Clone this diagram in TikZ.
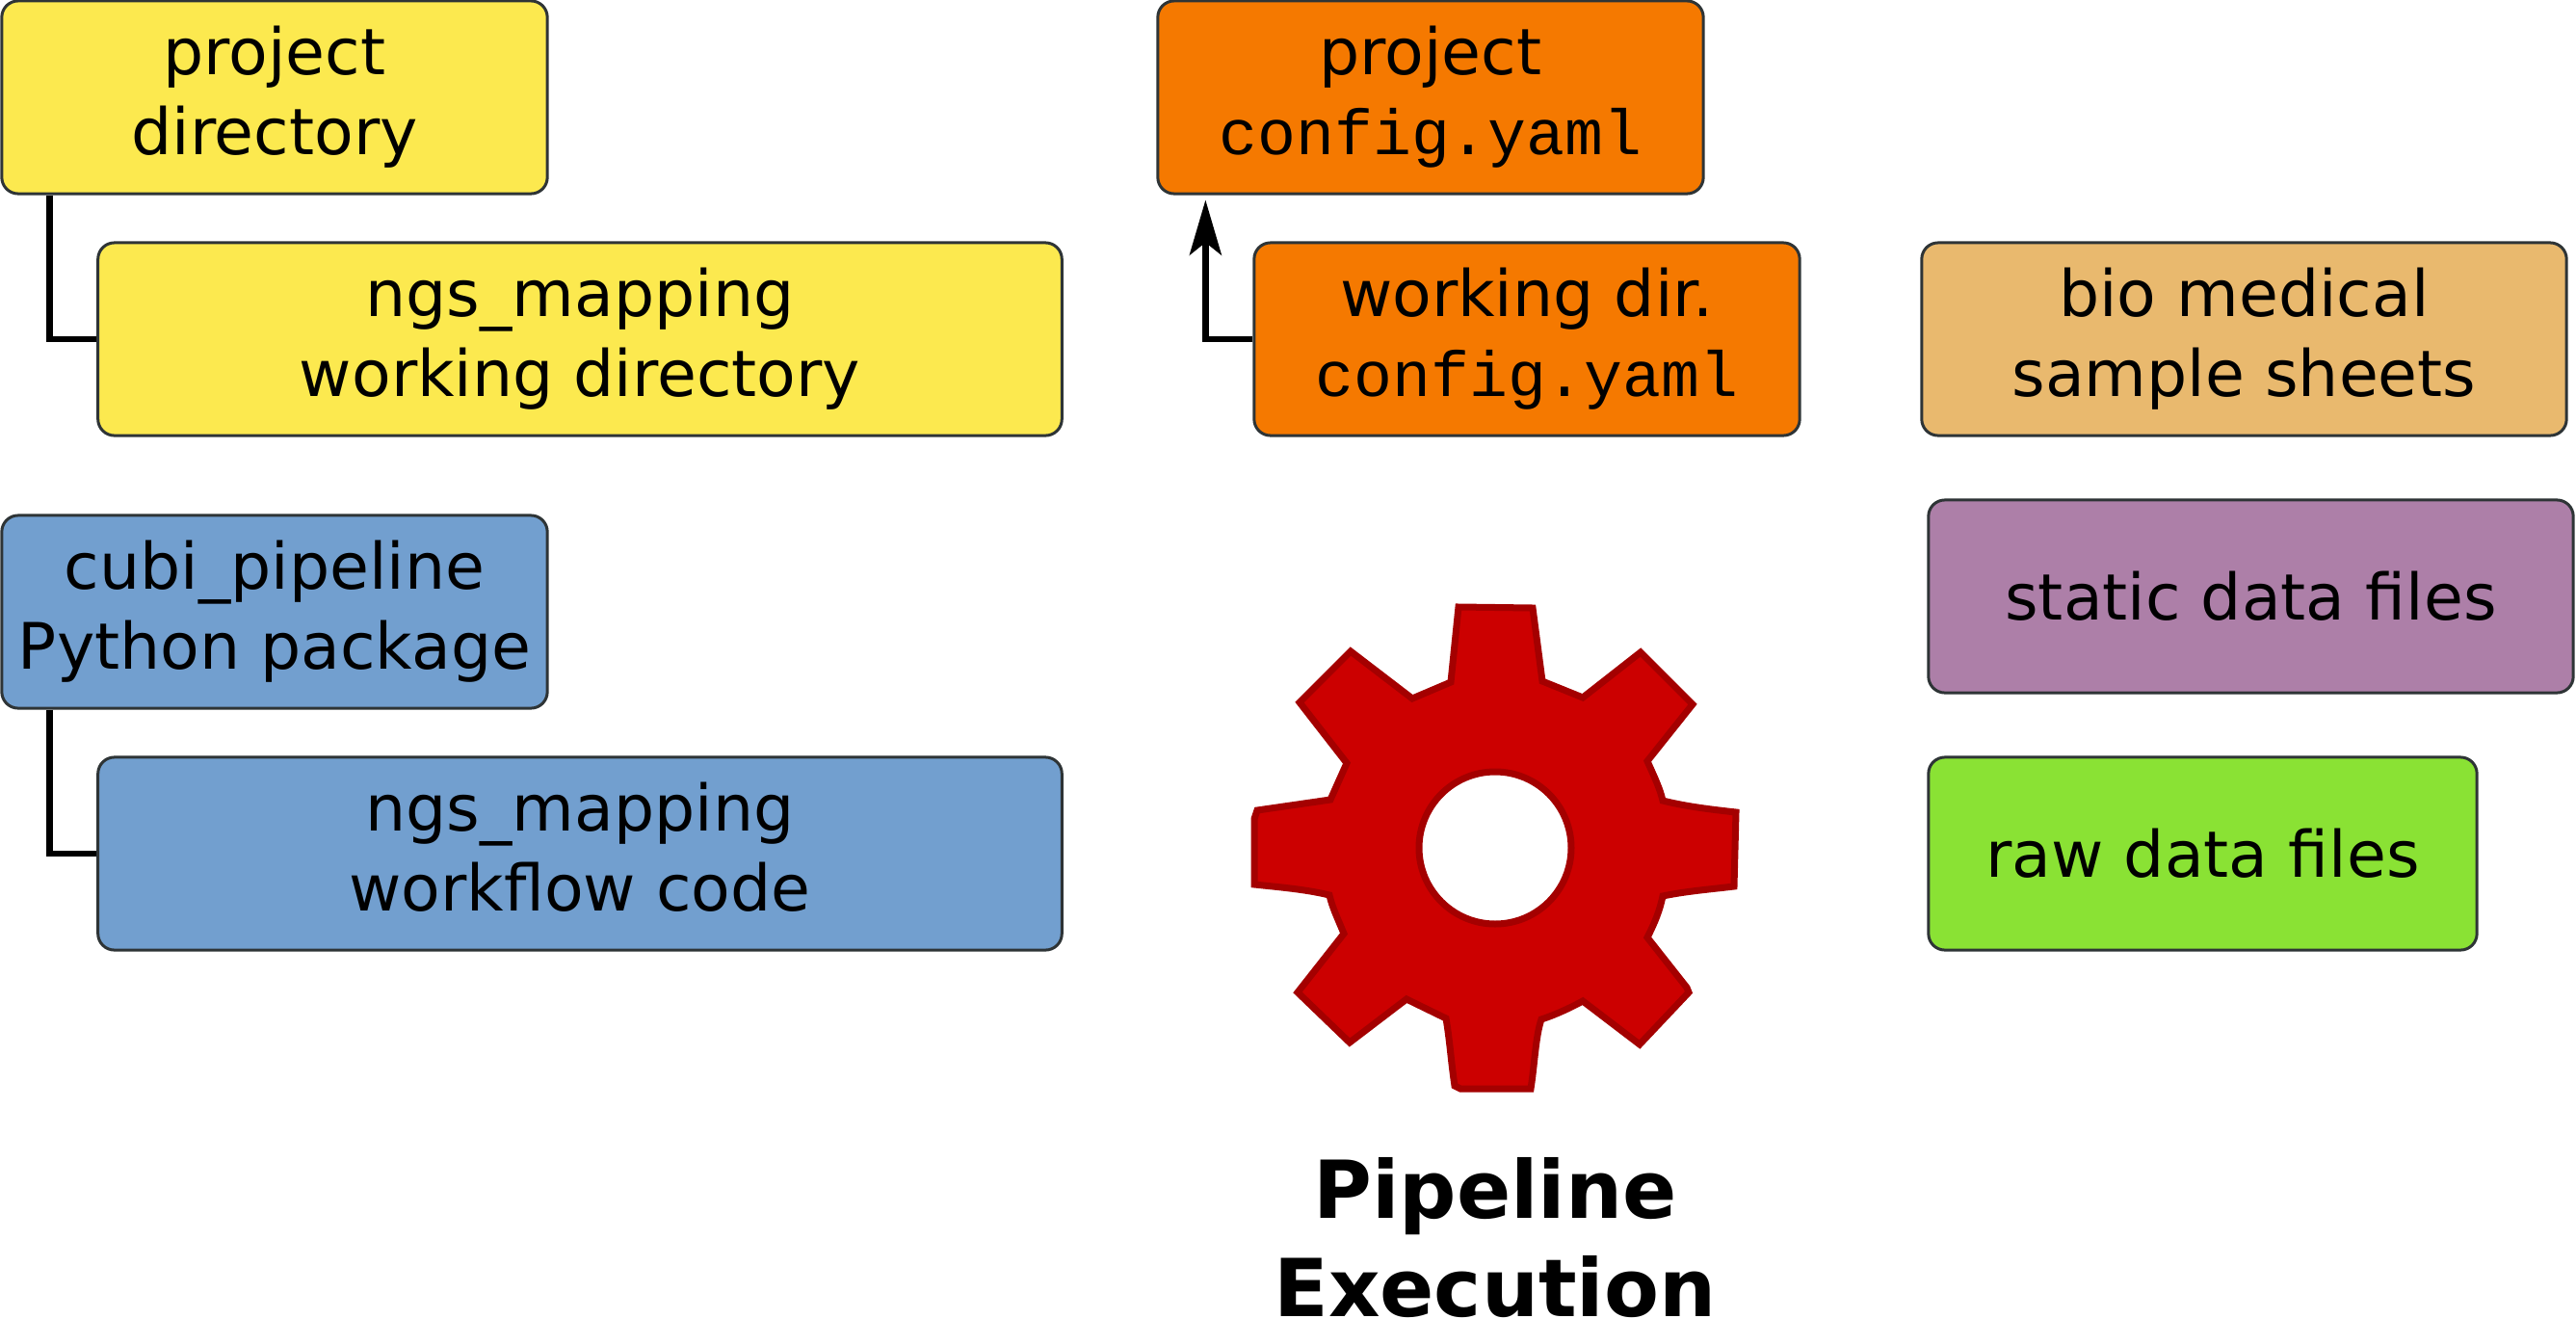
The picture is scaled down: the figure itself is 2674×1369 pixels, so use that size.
\documentclass[tikz,border=0pt]{standalone}
\usepackage{fontspec}
\setmainfont{DejaVu Sans}
\setmonofont{Liberation Mono}
\usetikzlibrary{arrows.meta}
\definecolor{boxline}{HTML}{2E3436}
\definecolor{pathyellow}{HTML}{FCE94F}
\definecolor{cfgorange}{HTML}{F57900}
\definecolor{codeblue}{HTML}{729FCF}
\definecolor{sheettan}{HTML}{E9B96E}
\definecolor{staticpurple}{HTML}{AD7FA8}
\definecolor{rawgreen}{HTML}{8AE234}
\definecolor{gearred}{HTML}{CC0000}
\definecolor{gearline}{HTML}{A40000}
\tikzset{
  cellbox/.style={draw=boxline,line width=.03cm,rounded corners=.17cm,minimum height=2cm,
    inner sep=0pt,align=center,font=\fontsize{18.9}{23.6}\selectfont},
  branch/.style={line width=.067cm},
  gearpart/.style={draw=gearline,fill=gearred,line width=.07cm,even odd rule}
}
\begin{document}
\begin{tikzpicture}[x=.01cm,y=-.01cm]
      \useasboundingbox (0,0) rectangle (2674,1369);
      \node[cellbox,fill=pathyellow,minimum width=5.66cm] (projdir) at (285,101) {project\\directory};
      \node[cellbox,fill=pathyellow,minimum width=10cm] (workdir) at (602,352) {ngs\_mapping\\working directory};
      \node[cellbox,fill=codeblue,minimum width=5.66cm] (pipepkg) at (285,635) {cubi\_pipeline\\Python package};
      \node[cellbox,fill=codeblue,minimum width=10cm] (flowcode) at (602,886) {ngs\_mapping\\workflow code\vphantom{y}};
      \node[cellbox,fill=cfgorange,minimum width=5.66cm] (projcfg) at (1485,101) {project\\\texttt{config.yaml}};
      \node[cellbox,fill=cfgorange,minimum width=5.66cm] (workcfg) at (1585,352) {working dir.\\\texttt{config.yaml}};
      \node[cellbox,fill=sheettan,minimum width=6.69cm] (sheets) at (2329.5,352) {bio medical\\sample sheets};
      \node[cellbox,fill=staticpurple,minimum width=6.69cm] (staticdata) at (2336.5,619) {static data files};
      \node[cellbox,fill=rawgreen,minimum width=5.69cm] (rawdata) at (2286.5,886) {raw data files};
      \draw[branch] ([xshift=.51cm]projdir.south west) |- (workdir.west);
      \draw[branch] ([xshift=.51cm]pipepkg.south west) |- (flowcode.west);
      \draw[branch,-{Stealth[length=.57cm,width=.33cm,inset=.13cm]}] (workcfg.west) -| ([xshift=.51cm,yshift=-.05cm]projcfg.south west);
      % gear, outline taken point by point
      \draw[gearpart] (1514,630) -- (1591,631) -- (1601,707) -- (1643,724) -- (1703,677) -- (1757,731)
        -- (1710,790) .. controls (1718,808) and (1723,818) .. (1726,831)
        .. controls (1750,837) and (1775,840) .. (1802,843) -- (1800,920)
        .. controls (1775,923) and (1750,925) .. (1726,930)
        .. controls (1723,945) and (1718,957) .. (1710,973) -- (1751,1025) -- (1753,1030) -- (1702,1084)
        -- (1643,1039) .. controls (1628,1047) and (1615,1053) .. (1600,1058)
        .. controls (1594,1075) and (1593,1105) .. (1589,1130) -- (1516,1130) -- (1510,1127)
        .. controls (1506,1100) and (1505,1080) .. (1501,1057) -- (1460,1037) -- (1401,1082) -- (1347,1030)
        -- (1395,969) .. controls (1388,952) and (1383,942) .. (1380,929)
        .. controls (1355,923) and (1330,921) .. (1302,918) -- (1302,850) -- (1305,841) -- (1381,830)
        -- (1398,792) -- (1349,729) -- (1402,676) -- (1466,725) -- (1506,708) -- cycle
        (1552,880) circle[radius=79];
      \node[font=\fontsize{23.6}{29}\selectfont\bfseries,align=center,anchor=base] (gearlabel) at (1552,1366) {Pipeline\\Execution};
\end{tikzpicture}
\end{document}
